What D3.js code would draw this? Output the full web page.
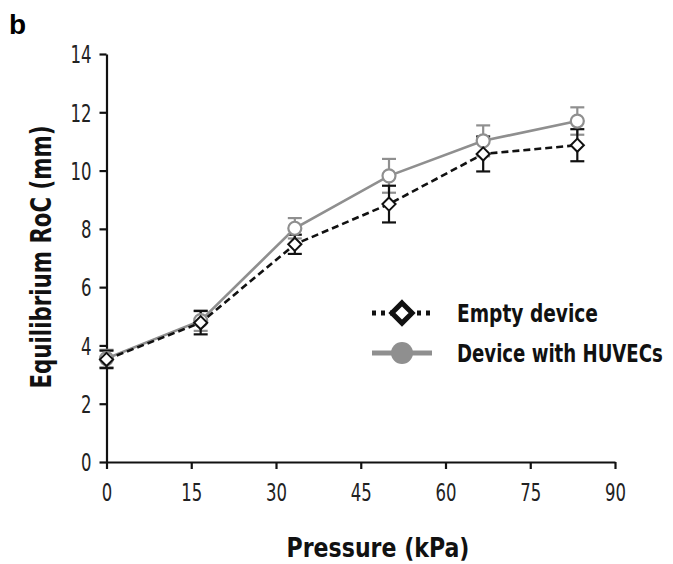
<!DOCTYPE html>
<html>
<head>
<meta charset="utf-8">
<script src="https://cdn.jsdelivr.net/npm/d3@7"></script>
<style>
  body { margin: 0; background: #fff; }
  .tick text { font-family: "DejaVu Sans Condensed", "DejaVu Sans", sans-serif; font-stretch: condensed; font-size: 25px; fill: #222; }
  .lbl { font-family: "DejaVu Sans Condensed", "DejaVu Sans", sans-serif; font-stretch: condensed; font-weight: bold; fill: #111; }
</style>
</head>
<body>
<svg id="chart" width="673" height="564"></svg>
<script>
// dane
const pressure = [0, 16.67, 33.33, 50, 66.67, 83.33];
const emptyRoC = [3.52, 4.78, 7.47, 8.85, 10.57, 10.87];
const emptyErr = [0.3, 0.4, 0.33, 0.63, 0.6, 0.55];
const huvecRoC = [3.55, 4.85, 8.02, 9.82, 11.02, 11.7];
const huvecErr = [0.3, 0.35, 0.35, 0.58, 0.53, 0.47];
const xTicks = [0, 15, 30, 45, 60, 75, 90];
const yTicks = [0, 2, 4, 6, 8, 10, 12, 14];
const legendLabels = ["Empty device", "Device with HUVECs"];

const svg = d3.select("#chart");
const GREY = "#8f8f8f";

const x = d3.scaleLinear().domain([0, 90]).range([106.5, 615]);
const y = d3.scaleLinear().domain([0, 14]).range([462, 54]);

// osie
const xAxis = svg.append("g")
  .attr("transform", `translate(0,${y(0)})`)
  .call(d3.axisBottom(x).tickValues(xTicks).tickSize(7).tickPadding(11).tickSizeOuter(0));
const yAxis = svg.append("g")
  .attr("transform", `translate(${x(0)},0)`)
  .call(d3.axisLeft(y).tickValues(yTicks).tickSize(7).tickPadding(8).tickSizeOuter(0));
[xAxis, yAxis].forEach(a => {
  a.select(".domain").attr("stroke", "#111").attr("stroke-width", 2.2);
  a.selectAll(".tick line").attr("stroke", "#111").attr("stroke-width", 2.2);
  a.selectAll(".tick text")
    .attr("font-family", null).attr("font-size", null)
    .attr("textLength", d => String(d).length * 10.5)
    .attr("lengthAdjust", "spacingAndGlyphs");
});
xAxis.selectAll(".tick text").attr("dy", "0.85em");
yAxis.selectAll(".tick text").attr("dy", "0.35em");

// ściśnięcie tekstu do szerokości z oryginału
function squeeze(sel, width) {
  const n = sel.node().getComputedTextLength();
  const s = Math.min(1, width / n);
  sel.attr("transform", (sel.attr("transform") || "") + ` scale(${s},1)`);
}

// tytuły osi
svg.append("text").attr("class", "lbl")
  .attr("transform", "translate(378,557)")
  .attr("text-anchor", "middle").attr("font-size", 27)
  .text("Pressure (kPa)")
  .call(squeeze, 183);
svg.append("text").attr("class", "lbl")
  .attr("transform", "translate(51,257) rotate(-90)")
  .attr("text-anchor", "middle").attr("font-size", 28)
  .text("Equilibrium RoC (mm)")
  .call(squeeze, 263);
svg.append("text")
  .attr("x", 9).attr("y", 34)
  .attr("font-family", "Liberation Sans, Arial, sans-serif")
  .attr("font-weight", "bold").attr("font-size", 28)
  .text("b");

// słupki błędów
function errorBars(vals, errs, color) {
  const g = svg.append("g").attr("stroke", color).attr("stroke-width", 2.2);
  pressure.forEach((p, i) => {
    const cx = x(p), top = y(vals[i] + errs[i]), bot = y(vals[i] - errs[i]);
    g.append("line").attr("x1", cx).attr("x2", cx).attr("y1", top).attr("y2", bot);
    g.append("line").attr("x1", cx - 7).attr("x2", cx + 7).attr("y1", top).attr("y2", top);
    g.append("line").attr("x1", cx - 7).attr("x2", cx + 7).attr("y1", bot).attr("y2", bot);
  });
}
errorBars(huvecRoC, huvecErr, GREY);
errorBars(emptyRoC, emptyErr, "#111");

const line = d3.line().x((d, i) => x(pressure[i])).y(d => y(d));

svg.append("path").datum(huvecRoC)
  .attr("d", line).attr("fill", "none")
  .attr("stroke", GREY).attr("stroke-width", 2.6);
svg.append("path").datum(emptyRoC)
  .attr("d", line).attr("fill", "none")
  .attr("stroke", "#111").attr("stroke-width", 2.6)
  .attr("stroke-dasharray", "7,4");

// markery
const diamond = d3.symbol().type(d3.symbolDiamond2).size(110);
svg.append("g").selectAll("circle")
  .data(huvecRoC).enter().append("circle")
  .attr("cx", (d, i) => x(pressure[i])).attr("cy", d => y(d))
  .attr("r", 6.5).attr("fill", "#fff")
  .attr("stroke", GREY).attr("stroke-width", 2.2);
svg.append("g").selectAll("path")
  .data(emptyRoC).enter().append("path")
  .attr("d", diamond)
  .attr("transform", (d, i) => `translate(${x(pressure[i])},${y(d)})`)
  .attr("fill", "#fff").attr("stroke", "#111").attr("stroke-width", 2);

// legenda
const legendWidths = [141, 206];
const leg = svg.append("g");
leg.append("line").attr("x1", 372).attr("x2", 432).attr("y1", 313).attr("y2", 313)
  .attr("stroke", "#111").attr("stroke-width", 5).attr("stroke-dasharray", "4,5");
leg.append("path").attr("d", d3.symbol().type(d3.symbolDiamond2).size(260))
  .attr("transform", "translate(402,313)")
  .attr("fill", "#fff").attr("stroke", "#111").attr("stroke-width", 5);
leg.append("line").attr("x1", 372).attr("x2", 432).attr("y1", 353).attr("y2", 353)
  .attr("stroke", GREY).attr("stroke-width", 5);
leg.append("circle").attr("cx", 402).attr("cy", 353).attr("r", 11).attr("fill", GREY);
leg.selectAll("text").data(legendLabels).enter().append("text")
  .attr("class", "lbl")
  .attr("transform", (d, i) => `translate(457,${313 + i * 40})`)
  .attr("dy", "0.35em").attr("font-size", 25)
  .text(d => d)
  .each(function(d, i) { squeeze(d3.select(this), legendWidths[i]); });
</script>
</body>
</html>
